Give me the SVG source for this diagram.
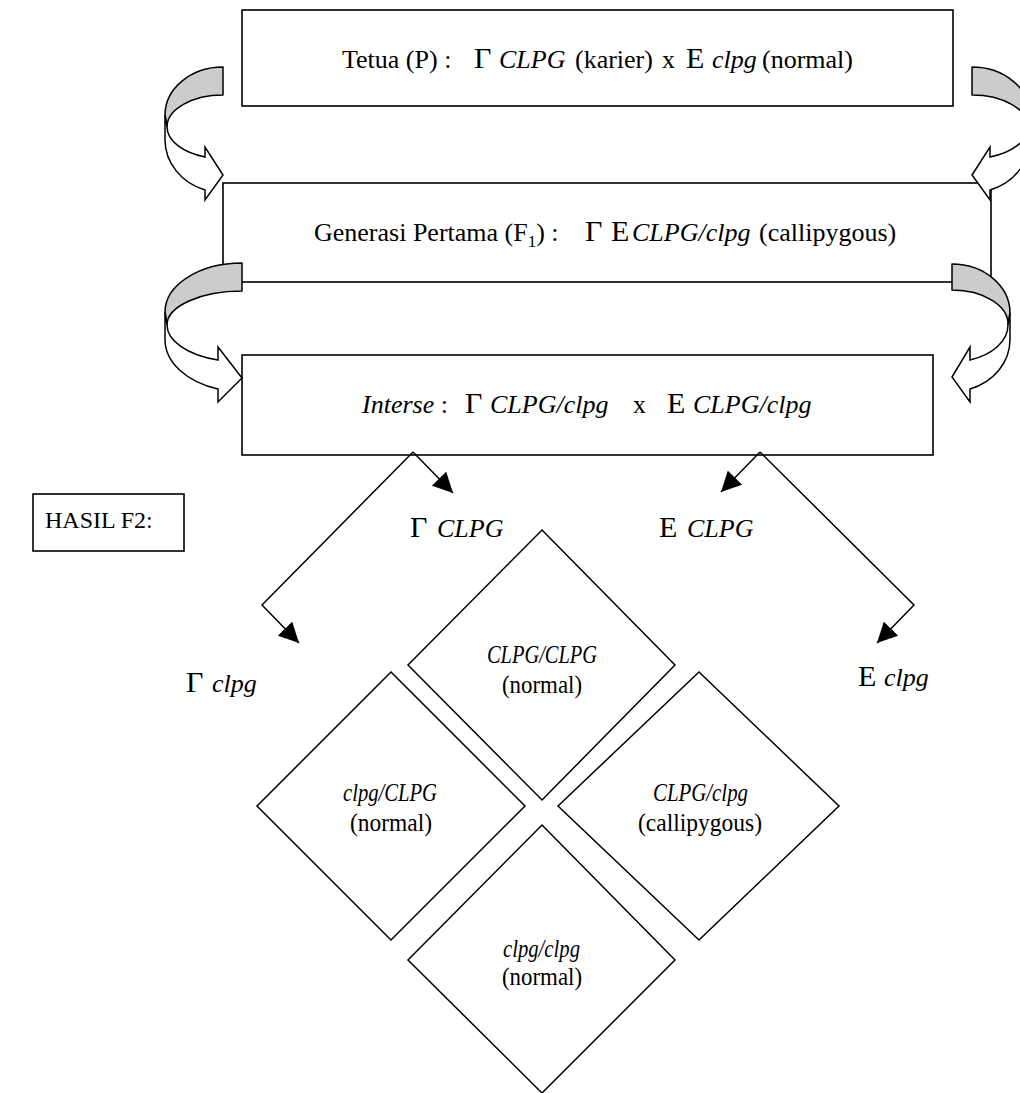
<svg xmlns="http://www.w3.org/2000/svg" width="1020" height="1093" viewBox="0 0 1020 1093">
<defs>
<marker id="ah" viewBox="0 0 20 20" refX="20" refY="10" markerWidth="20" markerHeight="20" markerUnits="userSpaceOnUse" orient="auto"><path d="M0,0 L20,10 L0,20 Z" fill="#000"/></marker>
<style>
.box{fill:#fff;stroke:#000;stroke-width:1.6}
.dia{fill:none;stroke:#000;stroke-width:1.5}
.t{font-family:"Liberation Serif","Times New Roman",serif;font-size:26px;fill:#000}
.i{font-style:italic}
.big{font-size:30px}
.sub{font-size:17px}
.back{fill:#cccccc;stroke:#000;stroke-width:1.5;stroke-linejoin:round}
.front{fill:#fff;stroke:#000;stroke-width:1.5}
.conn{fill:none;stroke:#000;stroke-width:1.5}
</style>
</defs>
<rect width="1020" height="1093" fill="#fff"/>

<g id="node-tetua">
<rect class="box" x="242" y="10" width="711" height="96"/>
<text class="t" y="68"><tspan x="342">Tetua (P) :</tspan><tspan x="474" class="big">Γ</tspan><tspan x="499" class="i">CLPG</tspan><tspan x="575">(karier)</tspan><tspan x="662">x</tspan><tspan x="686" class="big">E</tspan><tspan x="712" class="i">clpg</tspan><tspan x="762">(normal)</tspan></text>
</g>

<g id="node-f1">
<rect class="box" x="223" y="183" width="768" height="99"/>
<text class="t" y="241"><tspan x="314">Generasi Pertama (F</tspan><tspan class="sub" dy="6">1</tspan><tspan dy="-6">) :</tspan><tspan x="585" class="big">Γ</tspan><tspan x="611" class="big">E</tspan><tspan x="632" class="i">CLPG/clpg</tspan><tspan x="759">(callipygous)</tspan></text>
</g>

<g id="node-interse">
<rect class="box" x="242" y="355" width="691" height="100"/>
<text class="t" y="413"><tspan x="362" class="i">Interse</tspan><tspan> :</tspan><tspan x="465" class="big">Γ</tspan><tspan x="490" class="i">CLPG/clpg</tspan><tspan x="633">x</tspan><tspan x="667" class="big">E</tspan><tspan x="693" class="i">CLPG/clpg</tspan></text>
</g>

<g id="node-hasil">
<rect class="box" x="33" y="494" width="151" height="57"/>
<text class="t" x="45" y="528" style="font-size:24px">HASIL F2:</text>
</g>

<g id="label-gamma-CLPG"><text class="t" y="537"><tspan x="410" class="big">Γ</tspan><tspan x="437" class="i">CLPG</tspan></text></g>
<g id="label-E-CLPG"><text class="t" y="537"><tspan x="659" class="big">E</tspan><tspan x="687" class="i">CLPG</tspan></text></g>
<g id="label-gamma-clpg"><text class="t" y="692"><tspan x="186" class="big">Γ</tspan><tspan x="212" class="i">clpg</tspan></text></g>
<g id="label-E-clpg"><text class="t" y="686"><tspan x="858" class="big">E</tspan><tspan x="884" class="i">clpg</tspan></text></g>

<g id="node-CLPG-CLPG">
<polygon class="dia" points="542,530 675,665 542,800 408,665"/>
<text class="t i" x="487" y="663" textLength="110" lengthAdjust="spacingAndGlyphs">CLPG/CLPG</text>
<text class="t" x="502" y="693" textLength="80" lengthAdjust="spacingAndGlyphs">(normal)</text>
</g>
<g id="node-clpg-CLPG">
<polygon class="dia" points="391,672 525,806 391,940 257,806"/>
<text class="t i" x="343" y="801" textLength="94" lengthAdjust="spacingAndGlyphs">clpg/CLPG</text>
<text class="t" x="350" y="831" textLength="82" lengthAdjust="spacingAndGlyphs">(normal)</text>
</g>
<g id="node-CLPG-clpg">
<polygon class="dia" points="699,672 839,806 699,940 558,806"/>
<text class="t i" x="653" y="801" textLength="95" lengthAdjust="spacingAndGlyphs">CLPG/clpg</text>
<text class="t" x="638" y="831" textLength="124" lengthAdjust="spacingAndGlyphs">(callipygous)</text>
</g>
<g id="node-clpg-clpg">
<polygon class="dia" points="542,825 675,960 542,1093 408,960"/>
<text class="t i" x="503" y="957" textLength="77" lengthAdjust="spacingAndGlyphs">clpg/clpg</text>
<text class="t" x="502" y="985" textLength="80" lengthAdjust="spacingAndGlyphs">(normal)</text>
</g>

<g id="connectors">
<path class="back" d="M223,67 A58,48 0 0 0 165,115 L167,127 A56,32 0 0 1 223,95 Z"/>
<path class="front" d="M165,115 L165,140 A58,53 0 0 0 205,190 L205,200 L223,175 L205,147 L205,157 A56,32 0 0 1 167,127 Z"/>

<path class="back" d="M972,67 A58,48 0 0 1 1030,115 L1028,127 A56,32 0 0 0 972,95 Z"/>
<path class="front" d="M1030,115 L1030,140 A58,53 0 0 1 990,190 L990,200 L972,175 L990,147 L990,157 A56,32 0 0 0 1028,127 Z"/>

<path class="back" d="M242,263 A77,49 0 0 0 165,312 L167,325 A75,34 0 0 1 242,291 Z"/>
<path class="front" d="M165,312 L165,340 A77,52 0 0 0 218,389 L218,402 L242,378 L218,347 L218,360 A75,37 0 0 1 167,325 Z"/>

<path class="back" d="M952,264 A58,49 0 0 1 1010,313 L1008,325 A56,34 0 0 0 952,290 Z"/>
<path class="front" d="M1010,313 L1010,340 A58,52 0 0 1 970,389 L970,402 L952,377 L970,347 L970,360 A56,37 0 0 0 1008,325 Z"/>

<polyline class="conn" points="413,452 453,493" marker-end="url(#ah)"/>
<polyline class="conn" points="413,452 262,605 299,643" marker-end="url(#ah)"/>
<polyline class="conn" points="760,452 721,492" marker-end="url(#ah)"/>
<polyline class="conn" points="760,452 914,605 877,643" marker-end="url(#ah)"/>
</g>
</svg>
